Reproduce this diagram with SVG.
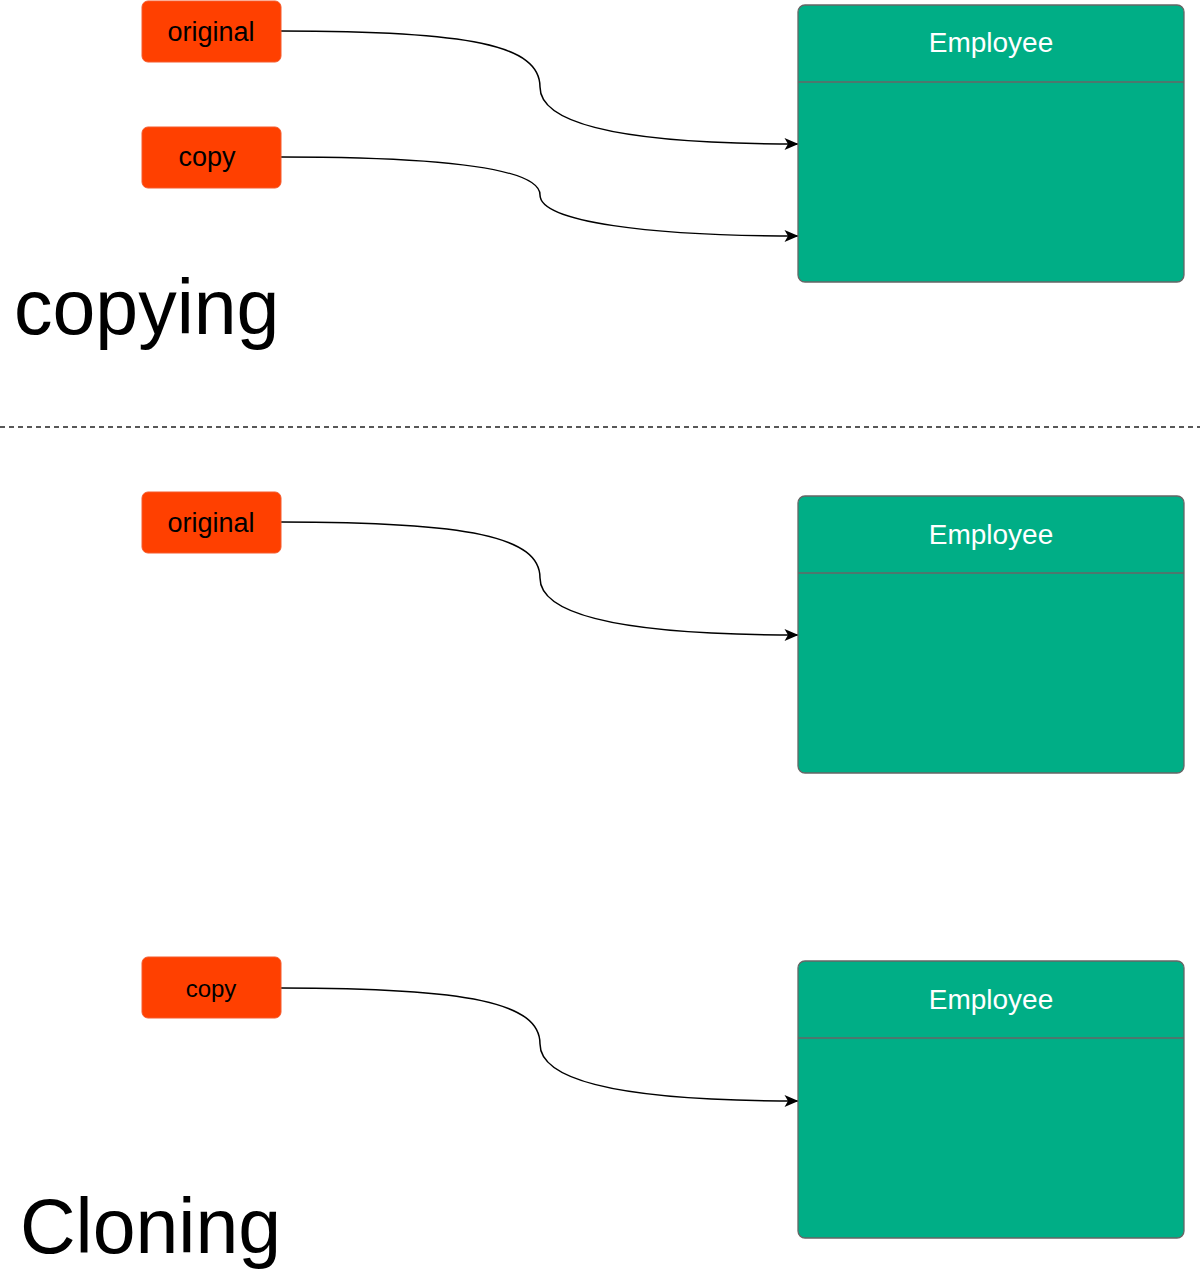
<svg xmlns="http://www.w3.org/2000/svg" width="1200" height="1273" viewBox="0 0 1200 1273">
<defs>
<style>
.ref{fill:#FF4000;stroke:#F55A2C;stroke-width:1}
.reft{font-family:"Liberation Sans",Arial,sans-serif;font-size:27px;fill:#000;text-anchor:middle}
.emp{fill:#00AE86;stroke:#666666;stroke-width:1.3}
.empt{font-family:"Liberation Sans",Arial,sans-serif;font-size:28px;fill:#fff;text-anchor:middle}
.big{font-family:"Liberation Sans",Arial,sans-serif;font-size:77px;fill:#000}
.edge{fill:none;stroke:#000;stroke-width:1.5}
</style>
<marker id="arr" viewBox="0 0 14 12" refX="13.5" refY="6" markerWidth="14" markerHeight="12" markerUnits="userSpaceOnUse" orient="auto" overflow="visible">
<path d="M0,0 L14,6 L0,12 L3.5,6 Z" fill="#000"/>
</marker>
</defs>
<g id="connectors">
<path class="edge" marker-end="url(#arr)" d="M281,31 C470,31 540,45 540,87 C540,130 650,144 798,144"/>
<path class="edge" marker-end="url(#arr)" d="M281,157 C470,157 540,172 540,195 C540,222 650,236 798,236"/>
<path class="edge" marker-end="url(#arr)" d="M281,522 C470,522 540,537 540,578 C540,621 650,635 798,635"/>
<path class="edge" marker-end="url(#arr)" d="M281,988 C470,988 540,1003 540,1044 C540,1087 650,1101 798,1101"/>
<line x1="0" y1="427" x2="1200" y2="427" stroke="#222" stroke-width="1.3" stroke-dasharray="5,4"/>
</g>
<g id="original1"><rect class="ref" x="142" y="1" width="139" height="61" rx="6"/><text class="reft" x="211" y="41">original</text></g>
<g id="copy1"><rect class="ref" x="142" y="127" width="139" height="61" rx="6"/><text class="reft" x="207" y="166">copy</text></g>
<g id="employee1"><rect class="emp" x="798" y="5" width="386" height="277" rx="7"/><line x1="798" y1="82" x2="1184" y2="82" stroke="#666" stroke-width="1.3"/><text class="empt" x="991" y="52">Employee</text></g>
<g id="copyingLabel"><text class="big" x="14" y="334">copying</text></g>
<g id="original2"><rect class="ref" x="142" y="492" width="139" height="61" rx="6"/><text class="reft" x="211" y="532">original</text></g>
<g id="employee2"><rect class="emp" x="798" y="496" width="386" height="277" rx="7"/><line x1="798" y1="573" x2="1184" y2="573" stroke="#666" stroke-width="1.3"/><text class="empt" x="991" y="544">Employee</text></g>
<g id="copy2"><rect class="ref" x="142" y="957" width="139" height="61" rx="6"/><text class="reft" x="211" y="997" style="font-size:24px">copy</text></g>
<g id="employee3"><rect class="emp" x="798" y="961" width="386" height="277" rx="7"/><line x1="798" y1="1038" x2="1184" y2="1038" stroke="#666" stroke-width="1.3"/><text class="empt" x="991" y="1009">Employee</text></g>
<g id="cloningLabel"><text class="big" x="20" y="1253">Cloning</text></g>
</svg>
